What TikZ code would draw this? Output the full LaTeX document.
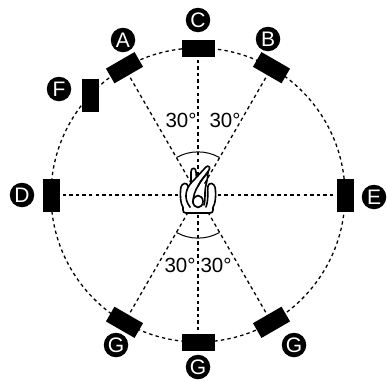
\documentclass[tikz,border=0pt]{standalone}
\usepackage{fontspec}
\setmainfont{Liberation Sans}
\usetikzlibrary{calc}
\tikzset{
 guide/.style={line width=1.3pt,dash pattern=on 3.4pt off 3.2pt},
 spk/.style={fill=black,draw=none,minimum width=33pt,minimum height=17pt,inner sep=0pt},
 tag/.style={circle,fill=black,text=white,minimum size=24.5pt,inner sep=0pt,font=\fontsize{21}{21}\selectfont},
 ang/.style={font=\fontsize{20.5}{22}\selectfont,inner sep=0pt},
 ico/.style={line width=1.6pt,line join=round,line cap=round,fill=white},
 arcl/.style={line width=1pt}
}
\begin{document}
\begin{tikzpicture}[x=1pt,y=-1pt]
\useasboundingbox (0,0) rectangle (387,380);
\coordinate (o) at (198,195);
\draw[guide] (o) circle[radius=147];
\foreach \a/\n in {0/e,60/b,90/c,120/a,180/d,240/g1,270/g2,300/g3}{
  \coordinate (\n) at ($(o)+({147*cos(\a)},{-147*sin(\a)})$);
  \draw[guide] (o) -- (\n);
}
\node[spk,rotate=0] (sc) at (c) {};
\node[spk,rotate=30] (sa) at (a) {};
\node[spk,rotate=-30] (sb) at (b) {};
\node[spk,rotate=90] (sd) at (d) {};
\node[spk,rotate=90] (se) at (e) {};
\node[spk,rotate=90] (sf) at (90,95) {};
\node[spk,rotate=-30] (sg1) at (g1) {};
\node[spk] (sg2) at (g2) {};
\node[spk,rotate=30] (sg3) at (g3) {};
\node[tag] (ta) at (123,40) {A};
\node[tag] (tb) at (268,39) {B};
\node[tag] (tc) at (198,20) {C};
\node[tag] (td) at (22,195) {D};
\node[tag] (te) at (374,197) {E};
\node[tag] (tf) at (59,89) {F};
\node[tag] (tg1) at (116,345) {G};
\node[tag] (tg2) at (198,367) {G};
\node[tag] (tg3) at (294,345) {G};
\node[ang] (l1) at (181,120.5) {30°};
\node[ang] (l2) at (225,120.5) {30°};
\node[ang] (l3) at (180,265) {30°};
\node[ang] (l4) at (216,265) {30°};
% angle arcs
\draw[arcl] (176.5,157.5) .. controls (190,150) and (206,150) .. (219.5,157.5);
\draw[arcl] (176.5,232.5) .. controls (190,240) and (206,240) .. (219.5,232.5);
% seated listener: blank ground
\fill[white] (181,184) rectangle (215,212);
% seat
\draw[ico] (183,204) -- (183,210) .. controls (183,212) and (184,213) .. (186,213) -- (210,213) .. controls (212,213) and (213,212) .. (213,210) -- (213,204);
% armrests
\draw[ico] (183,207) .. controls (180,203) and (180,192) .. (181,187) .. controls (182,183) and (187,182) .. (188,186) .. controls (189,192) and (187,198) .. (190,207);
\draw[ico] (213,207) .. controls (216,203) and (216,192) .. (215,187) .. controls (214,183) and (209,182) .. (208,186) .. controls (207,192) and (209,198) .. (206,207);
% raised left forearm
\draw[ico] (191,186) -- (191,172) .. controls (191,167) and (196,167) .. (196,172) -- (197,184);
% torso and crossing arm
\draw[ico] (190,207) .. controls (183,198) and (186,188) .. (192,182) .. controls (197,177) and (203,170) .. (206,167) .. controls (208,165) and (211,167) .. (209,170) .. controls (206,175) and (201,180) .. (198,186) .. controls (195,191) and (193,196) .. (193,203);
\draw[ico,fill=none] (198,186) .. controls (201,180) and (205,176) .. (208,172) .. controls (208,180) and (205,186) .. (205,192) .. controls (205,197) and (205,202) .. (204,205);
\draw[ico] (198,201.5) ellipse[x radius=5,y radius=6];
\end{tikzpicture}
\end{document}
